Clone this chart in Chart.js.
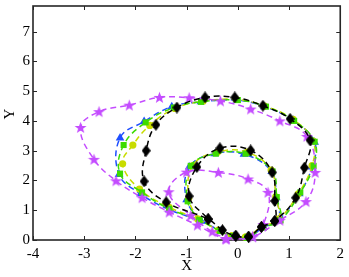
<!DOCTYPE html>
<html>
<head>
<meta charset="utf-8">
<script src="https://cdn.jsdelivr.net/npm/chart.js@4.4.1/dist/chart.umd.min.js"></script>
<style>
  html, body { margin: 0; padding: 0; background: #fff; }
  #wrap { width: 349px; height: 277px; }
</style>
</head>
<body>
<div id="wrap"><canvas id="plot"></canvas></div>
<script>
// values, path order: bottom -> outer loop -> bottom -> inner loop
const diamondX = [-0.04, 0.21, 0.46, 0.72, 1.13, 1.30, 1.41, 1.02, 0.49, -0.06, -0.64, -1.19, -1.60, -1.79, -1.83, -1.40, -0.58, -0.30, -0.04, 0.21, 0.46, 0.72, 0.72, 0.67, 0.25, -0.35, -0.80, -0.95, -0.58];
const diamondY = [0.14, 0.11, 0.44, 0.64, 1.42, 2.43, 3.35, 4.07, 4.51, 4.79, 4.79, 4.45, 3.87, 3.00, 1.97, 1.27, 0.70, 0.33, 0.14, 0.11, 0.44, 0.64, 1.31, 2.27, 3.01, 3.08, 2.45, 1.47, 0.70];

const starX = [-0.23, 0.29, 0.82, 1.33, 1.51, 1.35, 0.82, 0.25, -0.34, -0.95, -1.53, -2.12, -2.71, -3.07, -2.81, -2.38, -1.87, -1.34, -0.79, -0.23, 0.29, 0.50, 0.59, 0.20, -0.38, -1.00, -1.35, -0.92, -0.50, -0.23];
const starY = [0.04, 0.11, 0.66, 1.29, 2.27, 3.48, 4.00, 4.40, 4.67, 4.78, 4.79, 4.53, 4.31, 3.78, 2.71, 1.99, 1.42, 0.94, 0.50, 0.04, 0.11, 0.52, 1.60, 2.05, 2.27, 2.28, 1.62, 0.82, 0.28, 0.04];

const triangleX = [-0.08, 0.20, 0.50, 0.80, 1.20, 1.45, 1.50, 1.08, 0.52, -0.02, -0.72, -1.29, -1.83, -2.30, -2.32, -1.90, -1.34, -0.72, -0.33, -0.08, 0.20, 0.50, 0.80, 0.75, 0.66, 0.12, -0.45, -0.95, -1.00, -0.72];
const triangleY = [0.12, 0.09, 0.43, 0.68, 1.55, 2.45, 3.28, 4.02, 4.48, 4.70, 4.64, 4.48, 3.98, 3.43, 2.20, 1.55, 1.02, 0.64, 0.30, 0.12, 0.09, 0.43, 0.68, 1.42, 2.30, 2.88, 2.90, 2.45, 1.35, 0.64];

const squareX = [-0.10, 0.18, 0.50, 0.83, 1.22, 1.48, 1.50, 1.10, 0.55, 0.00, -0.72, -1.25, -1.80, -2.23, -2.30, -1.87, -1.34, -0.75, -0.35, -0.10, 0.18, 0.50, 0.83, 0.76, 0.68, 0.15, -0.43, -0.92, -0.98, -0.75];
const squareY = [0.12, 0.08, 0.42, 0.66, 1.60, 2.49, 3.30, 4.00, 4.48, 4.70, 4.64, 4.45, 3.95, 3.19, 2.23, 1.60, 1.05, 0.66, 0.30, 0.12, 0.08, 0.42, 0.66, 1.44, 2.30, 2.90, 2.90, 2.49, 1.30, 0.66];

const circleX = [-0.12, 0.15, 0.48, 0.80, 1.18, 1.45, 1.47, 1.08, 0.52, -0.03, -0.68, -1.23, -1.72, -2.05, -2.25, -1.92, -1.34, -0.78, -0.38, -0.12, 0.15, 0.48, 0.80, 0.74, 0.65, 0.18, -0.40, -0.88, -0.96, -0.78];
const circleY = [0.14, 0.10, 0.45, 0.70, 1.55, 2.50, 3.32, 4.05, 4.50, 4.72, 4.66, 4.42, 3.85, 3.19, 2.56, 1.71, 1.10, 0.70, 0.33, 0.14, 0.10, 0.45, 0.70, 1.45, 2.35, 2.95, 2.95, 2.50, 1.40, 0.70];

const xTicks = [-4, -3, -2, -1, 0, 1, 2];
const yTicks = [0, 1, 2, 3, 4, 5, 6, 7];

const toPoints = (xs, ys) => xs.map((x, i) => ({ x: x, y: ys[i] }));

const makeMarker = (w, h, color, draw) => {
  const c = document.createElement("canvas");
  c.width = w;
  c.height = h;
  const g = c.getContext("2d");
  g.fillStyle = color;
  g.beginPath();
  draw(g, w, h);
  g.closePath();
  g.fill();
  return c;
};

const starMarker = makeMarker(13, 13, "#c44cff", (g, w, h) => {
  for (let k = 0; k < 10; k++) {
    const r = k % 2 === 0 ? 6.3 : 2.6;
    const a = -Math.PI / 2 + (k * Math.PI) / 5;
    const px = w / 2 + r * Math.cos(a);
    const py = h / 2 + 0.5 + r * Math.sin(a);
    if (k === 0) g.moveTo(px, py);
    else g.lineTo(px, py);
  }
});

const diamondMarker = makeMarker(9, 12, "#000", (g, w, h) => {
  g.moveTo(w / 2, 0);
  g.lineTo(w, h / 2);
  g.lineTo(w / 2, h);
  g.lineTo(0, h / 2);
});

const series = (label, xs, ys, color, style, radius) => ({
  label: label,
  data: toPoints(xs, ys),
  showLine: true,
  tension: 0.4,
  borderColor: color,
  borderWidth: 1.5,
  borderDash: [6, 4],
  backgroundColor: color,
  pointBackgroundColor: color,
  pointBorderColor: color,
  pointBorderWidth: 0,
  pointStyle: style,
  pointRadius: radius,
  clip: false,
});

// MATLAB style box: frame and inward ticks on all sides
const boxPlugin = {
  id: "box",
  beforeDatasetsDraw(chart) {
    const { ctx, chartArea: a, scales } = chart;
    ctx.save();
    ctx.strokeStyle = "#262626";
    ctx.lineWidth = 1.6;
    ctx.strokeRect(a.left, a.top, a.right - a.left, a.bottom - a.top);
    ctx.lineWidth = 1;
    ctx.beginPath();
    xTicks.forEach((t) => {
      const px = Math.round(scales.x.getPixelForValue(t)) + 0.5;
      ctx.moveTo(px, a.bottom);
      ctx.lineTo(px, a.bottom - 4);
      ctx.moveTo(px, a.top);
      ctx.lineTo(px, a.top + 4);
    });
    yTicks.forEach((t) => {
      const py = Math.round(scales.y.getPixelForValue(t)) + 0.5;
      ctx.moveTo(a.left, py);
      ctx.lineTo(a.left + 4, py);
      ctx.moveTo(a.right, py);
      ctx.lineTo(a.right - 4, py);
    });
    ctx.stroke();
    ctx.restore();
  },
  // y tick labels and y title
  afterDraw(chart) {
    const { ctx, chartArea: a, scales } = chart;
    ctx.save();
    ctx.fillStyle = "#000000";
    ctx.font = "15px 'Liberation Serif'";
    ctx.textAlign = "right";
    ctx.textBaseline = "middle";
    for (const t of yTicks) {
      ctx.fillText(t.toString(), a.left - 3, scales.y.getPixelForValue(t));
    }
    ctx.translate(10, 114);
    ctx.rotate(-Math.PI / 2);
    ctx.textAlign = "center";
    ctx.fillText("Y", 0, 0);
    ctx.restore();
  },
};

const serif = { family: "'Liberation Serif', 'DejaVu Serif', serif", size: 15 };

new Chart(document.getElementById("plot"), {
  type: "scatter",
  data: {
    datasets: [
      series("diamond", diamondX, diamondY, "#000000", diamondMarker, 5),
      series("star", starX, starY, "#c44cff", starMarker, 6),
      series("square", squareX, squareY, "#3ddc00", "rect", 4.3),
      series("circle", circleX, circleY, "#c8dc00", "circle", 3.6),
      series("triangle", triangleX, triangleY, "#1f4fff", "triangle", 5),
    ],
  },
  options: {
    responsive: true,
    maintainAspectRatio: false,
    animation: false,
    events: [],
    layout: { padding: { top: 3, right: 7 } },
    plugins: { legend: { display: false }, tooltip: { enabled: false } },
    scales: {
      x: {
        type: "linear",
        min: -4,
        max: 2,
        grid: { display: false, tickLength: 0 },
        border: { display: false },
        ticks: { stepSize: 1, autoSkip: false, color: "#000", font: serif, padding: 5, maxRotation: 0 },
        title: { display: true, text: "X", color: "#000", font: serif, padding: { top: 0, bottom: 2 } },
        afterBuildTicks: (s) => { s.ticks = xTicks.map((v) => ({ value: v })); },
        afterFit: (s) => { s.height = 37; },
      },
      y: {
        type: "linear",
        min: 0,
        max: 7.86,
        grid: { display: false },
        border: { display: false },
        ticks: { display: false },
        afterFit: (s) => { s.width = 33; s.paddingTop = 0; s.paddingBottom = 0; },
      },
    },
  },
  plugins: [boxPlugin],
});
</script>
</body>
</html>
